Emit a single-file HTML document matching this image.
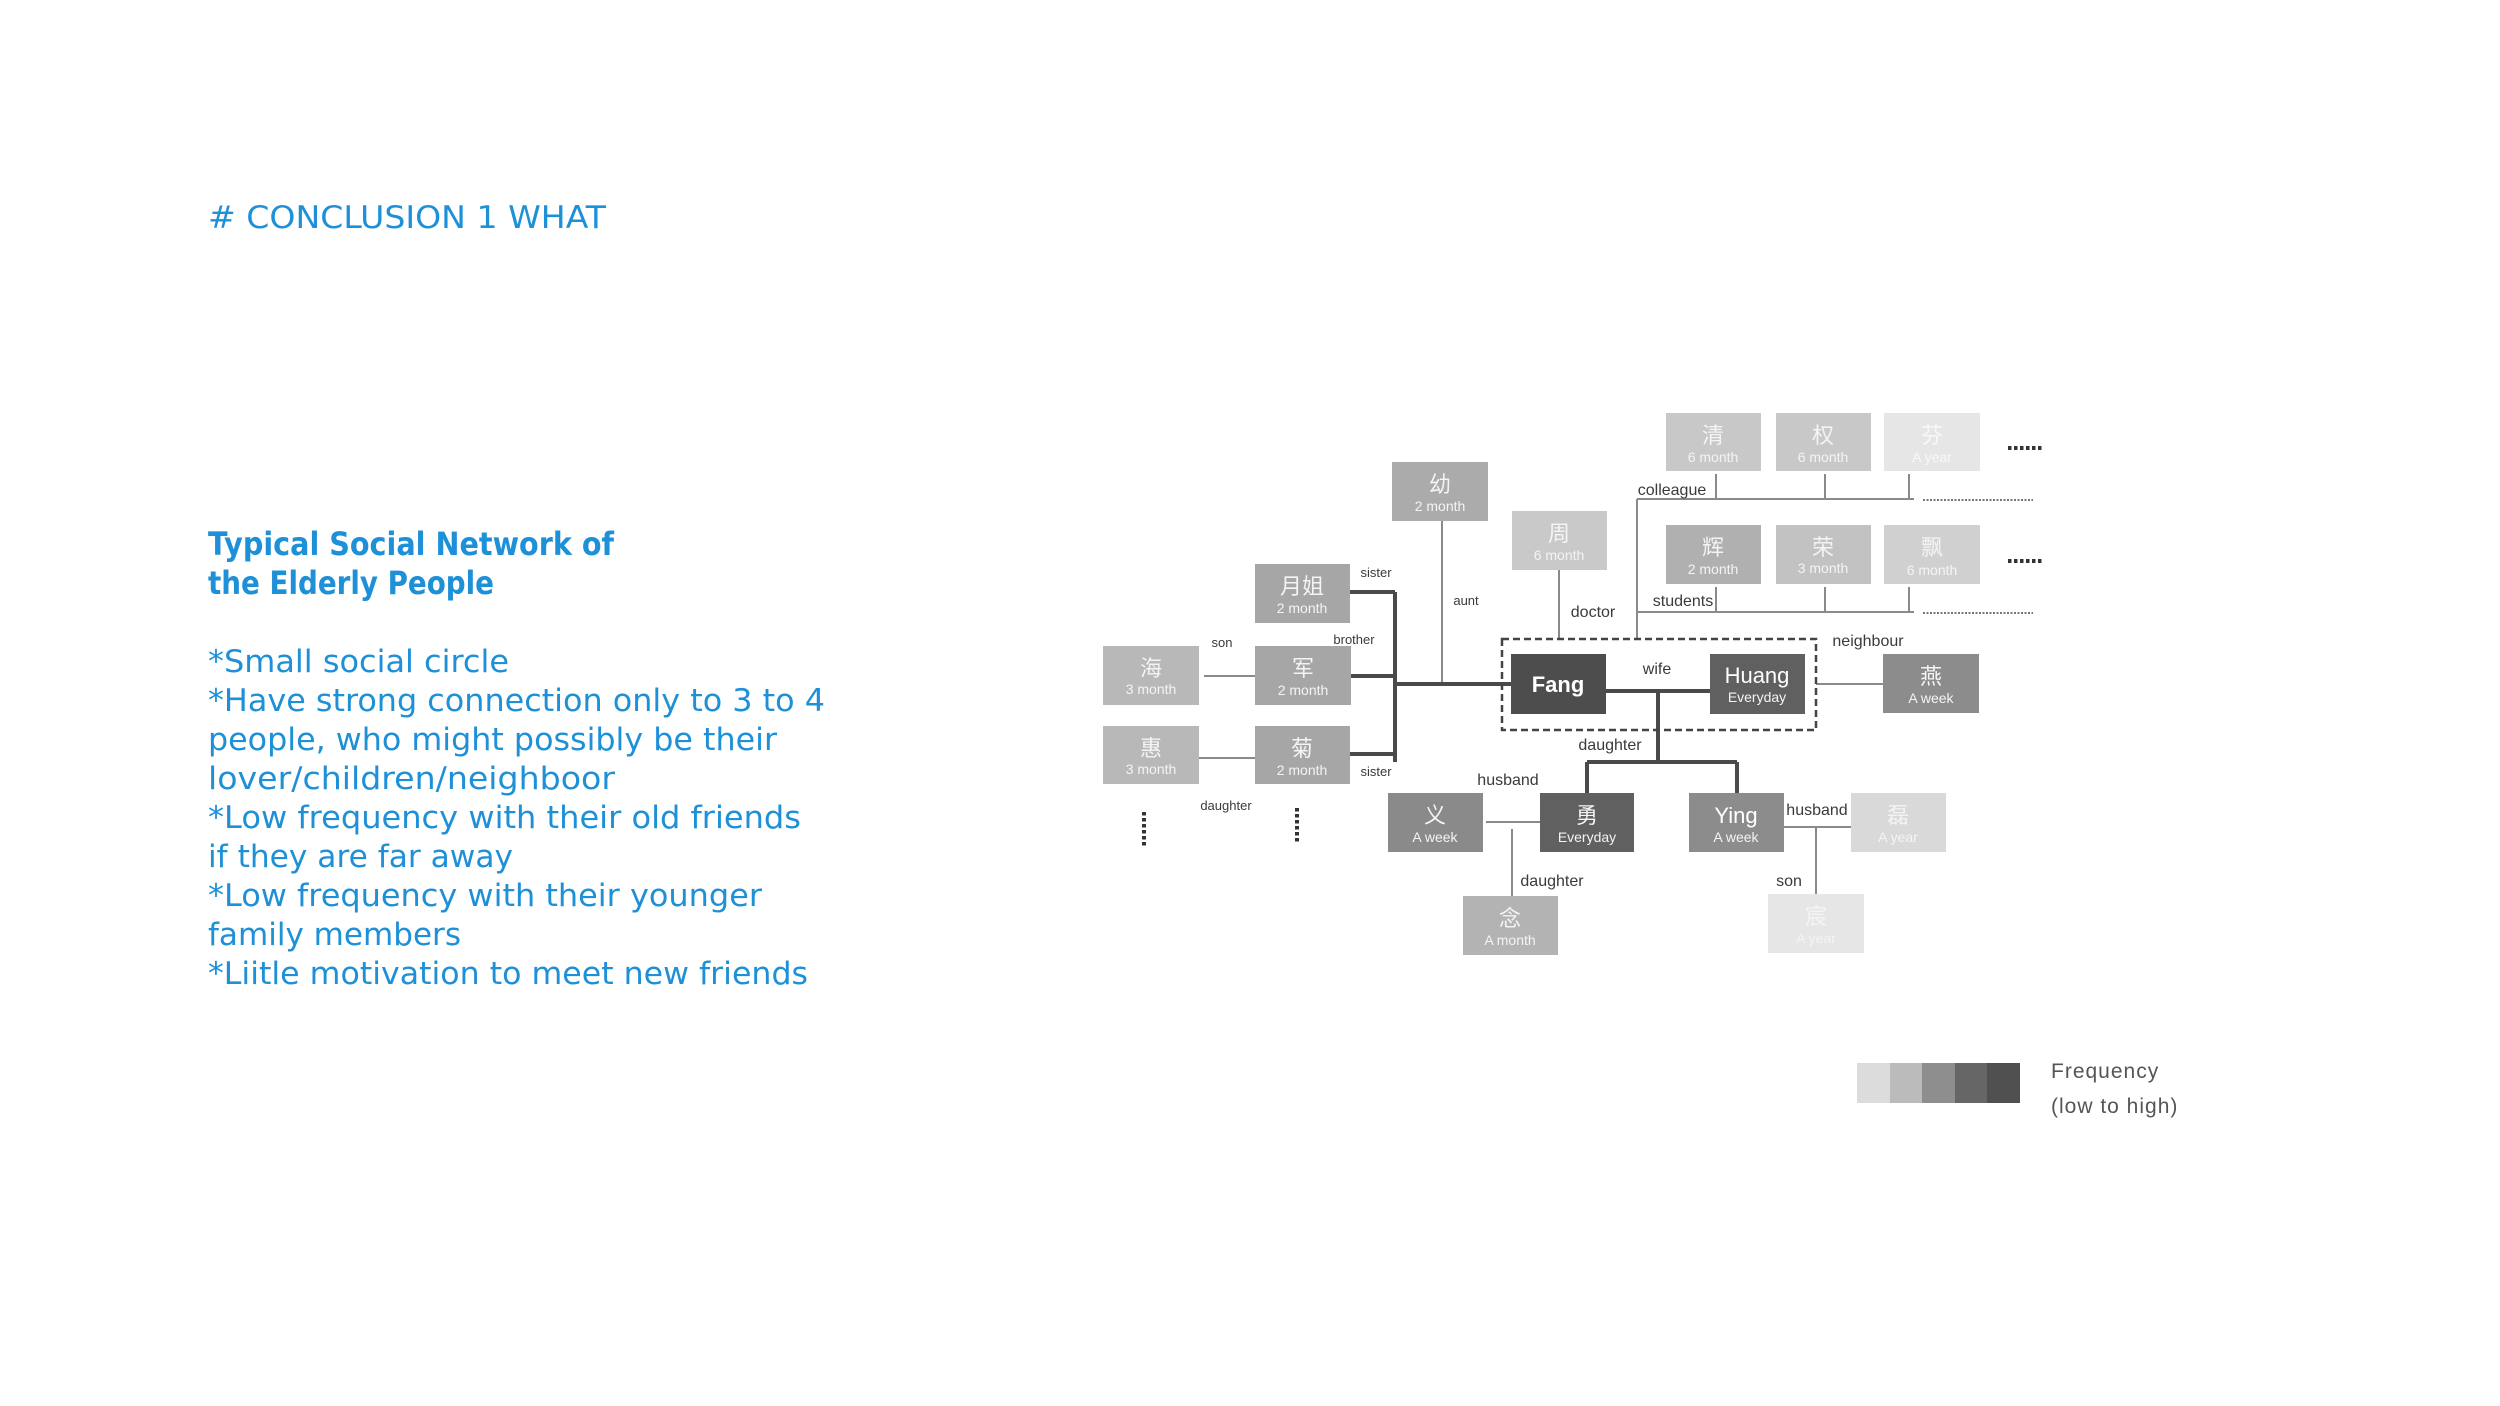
<!DOCTYPE html>
<html><head><meta charset="utf-8"><style>
html,body{margin:0;padding:0;background:#fff;}
svg{display:block;}
.t{font-family:"Liberation Sans","Noto Sans CJK SC",sans-serif;}
.lab{font-family:"Liberation Sans",sans-serif;font-size:16px;fill:#3a3a3a;text-anchor:middle;}
.sm{font-size:13px;}
.m{font-family:"Liberation Sans","Noto Sans CJK SC",sans-serif;font-size:22px;text-anchor:middle;}
.s{font-family:"Liberation Sans",sans-serif;font-size:14px;text-anchor:middle;}
.blue{fill:#1e90d8;font-family:"DejaVu Sans","Liberation Sans",sans-serif;}
</style></head><body>
<svg width="2500" height="1406" viewBox="0 0 2500 1406" xmlns="http://www.w3.org/2000/svg">
<text class="blue" x="208" y="228" font-size="31" textLength="398" lengthAdjust="spacingAndGlyphs"># CONCLUSION 1 WHAT</text>
<text class="blue" x="208" y="555" font-size="32" font-weight="bold" textLength="406" lengthAdjust="spacingAndGlyphs">Typical Social Network of</text>
<text class="blue" x="208" y="594" font-size="32" font-weight="bold" textLength="286" lengthAdjust="spacingAndGlyphs">the Elderly People</text>
<g class="blue" font-size="31">
<text x="208" y="672" textLength="301" lengthAdjust="spacingAndGlyphs">*Small social circle</text>
<text x="208" y="711" textLength="617" lengthAdjust="spacingAndGlyphs">*Have strong connection only to 3 to 4</text>
<text x="208" y="750" textLength="569" lengthAdjust="spacingAndGlyphs">people, who might possibly be their</text>
<text x="208" y="789" textLength="407" lengthAdjust="spacingAndGlyphs">lover/children/neighboor</text>
<text x="208" y="828" textLength="593" lengthAdjust="spacingAndGlyphs">*Low frequency with their old friends</text>
<text x="208" y="867" textLength="305" lengthAdjust="spacingAndGlyphs">if they are far away</text>
<text x="208" y="906" textLength="554" lengthAdjust="spacingAndGlyphs">*Low frequency with their younger</text>
<text x="208" y="945" textLength="253" lengthAdjust="spacingAndGlyphs">family members</text>
<text x="208" y="984" textLength="600" lengthAdjust="spacingAndGlyphs">*Liitle motivation to meet new friends</text>
</g>

<g stroke="#8a8a8a" stroke-width="2" fill="none">
<line x1="1442" y1="521" x2="1442" y2="684"/>
<line x1="1559" y1="570" x2="1559" y2="639"/>
<line x1="1637" y1="499" x2="1637" y2="639"/>
<line x1="1637" y1="499" x2="1914" y2="499"/>
<line x1="1716" y1="474" x2="1716" y2="499"/>
<line x1="1825" y1="474" x2="1825" y2="499"/>
<line x1="1909" y1="474" x2="1909" y2="499"/>
<line x1="1637" y1="612" x2="1914" y2="612"/>
<line x1="1716" y1="587" x2="1716" y2="612"/>
<line x1="1825" y1="587" x2="1825" y2="612"/>
<line x1="1909" y1="587" x2="1909" y2="612"/>
<line x1="1816" y1="684" x2="1883" y2="684"/>
<line x1="1204" y1="676" x2="1262" y2="676"/>
<line x1="1199" y1="758" x2="1258" y2="758"/>
<line x1="1486" y1="822" x2="1551" y2="822"/>
<line x1="1512" y1="829" x2="1512" y2="896"/>
<line x1="1784" y1="827" x2="1851" y2="827"/>
<line x1="1816" y1="827" x2="1816" y2="894"/>
</g>
<g stroke="#777" stroke-width="2" stroke-dasharray="2 1.5">
<line x1="1923" y1="500" x2="2033" y2="500"/>
<line x1="1923" y1="613" x2="2033" y2="613"/>
</g>
<g stroke="#333" stroke-width="4" stroke-dasharray="3.5 2.5">
<line x1="2008" y1="448" x2="2043" y2="448"/>
<line x1="2008" y1="561" x2="2043" y2="561"/>
<line x1="1144" y1="812" x2="1144" y2="847"/>
<line x1="1297" y1="808" x2="1297" y2="843"/>
</g>
<g stroke="#4a4a4a" stroke-width="4" fill="none">
<line x1="1395" y1="592" x2="1395" y2="762"/>
<line x1="1350" y1="592" x2="1395" y2="592"/>
<line x1="1351" y1="676" x2="1395" y2="676"/>
<line x1="1350" y1="754" x2="1395" y2="754"/>
<line x1="1395" y1="684" x2="1511" y2="684"/>
<line x1="1606" y1="691" x2="1710" y2="691"/>
<line x1="1658" y1="691" x2="1658" y2="762"/>
<line x1="1587" y1="762" x2="1737" y2="762"/>
<line x1="1587" y1="762" x2="1587" y2="793"/>
<line x1="1737" y1="762" x2="1737" y2="793"/>
</g>
<rect x="1502" y="639" width="314" height="91" fill="none" stroke="#444" stroke-width="2.5" stroke-dasharray="7 4"/>

<g>
<rect x="1666" y="413" width="95" height="58" fill="#c8c8c8"/>
<rect x="1776" y="413" width="95" height="58" fill="#c8c8c8"/>
<rect x="1884" y="413" width="96" height="58" fill="#e6e6e6"/>
<rect x="1666" y="525" width="95" height="59" fill="#b0b0b0"/>
<rect x="1776" y="525" width="95" height="59" fill="#c2c2c2"/>
<rect x="1884" y="525" width="96" height="59" fill="#d0d0d0"/>
<rect x="1392" y="462" width="96" height="59" fill="#ababab"/>
<rect x="1512" y="511" width="95" height="59" fill="#c9c9c9"/>
<rect x="1255" y="564" width="95" height="59" fill="#a6a6a6"/>
<rect x="1255" y="646" width="96" height="59" fill="#a6a6a6"/>
<rect x="1255" y="726" width="95" height="58" fill="#a6a6a6"/>
<rect x="1103" y="646" width="96" height="59" fill="#b8b8b8"/>
<rect x="1103" y="726" width="96" height="58" fill="#b8b8b8"/>
<rect x="1511" y="654" width="95" height="60" fill="#4d4d4d"/>
<rect x="1710" y="654" width="95" height="60" fill="#606060"/>
<rect x="1883" y="654" width="96" height="59" fill="#8c8c8c"/>
<rect x="1388" y="793" width="95" height="59" fill="#8a8a8a"/>
<rect x="1540" y="793" width="94" height="59" fill="#606060"/>
<rect x="1689" y="793" width="95" height="59" fill="#8c8c8c"/>
<rect x="1851" y="793" width="95" height="59" fill="#d9d9d9"/>
<rect x="1463" y="896" width="95" height="59" fill="#b3b3b3"/>
<rect x="1768" y="894" width="96" height="59" fill="#e6e6e6"/>
</g>
<g fill="#f4f4f4">
<text class="m" x="1713" y="443">清</text><text class="s" x="1713" y="462">6 month</text>
<text class="m" x="1823" y="443">权</text><text class="s" x="1823" y="462">6 month</text>
<text class="m" x="1932" y="443" fill="#f8f8f8">芬</text><text class="s" x="1932" y="462" fill="#f8f8f8">A year</text>
<text class="m" x="1713" y="555">辉</text><text class="s" x="1713" y="574">2 month</text>
<text class="m" x="1823" y="555">荣</text><text class="s" x="1823" y="573">3 month</text>
<text class="m" x="1932" y="555">飘</text><text class="s" x="1932" y="575">6 month</text>
<text class="m" x="1440" y="492">幼</text><text class="s" x="1440" y="511">2 month</text>
<text class="m" x="1559" y="541">周</text><text class="s" x="1559" y="560">6 month</text>
<text class="m" x="1302" y="594">月姐</text><text class="s" x="1302" y="613">2 month</text>
<text class="m" x="1303" y="676">军</text><text class="s" x="1303" y="695">2 month</text>
<text class="m" x="1302" y="756">菊</text><text class="s" x="1302" y="775">2 month</text>
<text class="m" x="1151" y="676">海</text><text class="s" x="1151" y="694">3 month</text>
<text class="m" x="1151" y="756">惠</text><text class="s" x="1151" y="774">3 month</text>
<text class="t" x="1558" y="692" font-size="22" font-weight="bold" text-anchor="middle" fill="#fff">Fang</text>
<text class="m" x="1757" y="683" fill="#fff">Huang</text><text class="s" x="1757" y="702">Everyday</text>
<text class="m" x="1931" y="684">燕</text><text class="s" x="1931" y="703">A week</text>
<text class="m" x="1435" y="823">义</text><text class="s" x="1435" y="842">A week</text>
<text class="m" x="1587" y="823">勇</text><text class="s" x="1587" y="842">Everyday</text>
<text class="m" x="1736" y="823" fill="#fff">Ying</text><text class="s" x="1736" y="842">A week</text>
<text class="m" x="1898" y="823">磊</text><text class="s" x="1898" y="842">A year</text>
<text class="m" x="1510" y="926">念</text><text class="s" x="1510" y="945">A month</text>
<text class="m" x="1816" y="924">宸</text><text class="s" x="1816" y="943">A year</text>
</g>

<text class="lab sm" x="1376" y="577">sister</text>
<text class="lab sm" x="1354" y="644">brother</text>
<text class="lab sm" x="1222" y="647">son</text>
<text class="lab sm" x="1376" y="776">sister</text>
<text class="lab sm" x="1226" y="810">daughter</text>
<text class="lab sm" x="1466" y="605">aunt</text>
<text class="lab" x="1593" y="617">doctor</text>
<text class="lab" x="1672" y="495">colleague</text>
<text class="lab" x="1683" y="606">students</text>
<text class="lab" x="1657" y="674">wife</text>
<text class="lab" x="1610" y="750">daughter</text>
<text class="lab" x="1868" y="646">neighbour</text>
<text class="lab" x="1508" y="785">husband</text>
<text class="lab" x="1552" y="886">daughter</text>
<text class="lab" x="1817" y="815">husband</text>
<text class="lab" x="1789" y="886">son</text>

<rect x="1857" y="1063" width="33" height="40" fill="#dcdcdc"/>
<rect x="1890" y="1063" width="33" height="40" fill="#bbbbbb"/>
<rect x="1922" y="1063" width="33" height="40" fill="#8e8e8e"/>
<rect x="1955" y="1063" width="33" height="40" fill="#666666"/>
<rect x="1987" y="1063" width="33" height="40" fill="#505050"/>
<text x="2051" y="1078" font-family="Liberation Sans, sans-serif" font-size="21" fill="#555" letter-spacing="1">Frequency</text>
<text x="2051" y="1113" font-family="Liberation Sans, sans-serif" font-size="21" fill="#555" letter-spacing="1">(low to high)</text>
</svg>
</body></html>
